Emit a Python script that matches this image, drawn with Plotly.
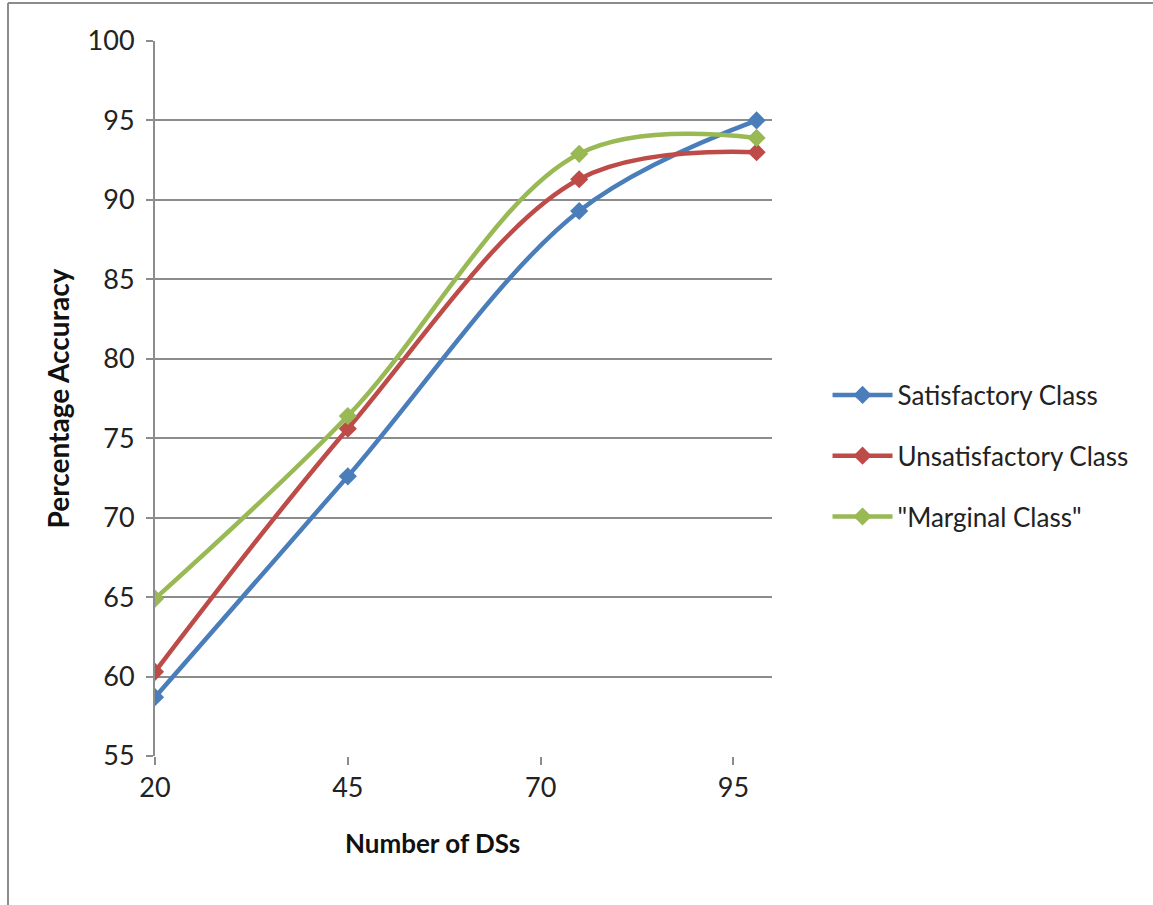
import plotly.graph_objects as go

num_ds = [20, 45, 75, 98]
satisfactory = [58.7, 72.6, 89.3, 95.0]
unsatisfactory = [60.3, 75.6, 91.3, 93.0]
marginal = [64.9, 76.4, 92.9, 93.9]
series_names = ["Satisfactory Class", "Unsatisfactory Class", "\"Marginal Class\""]
colors = ["#4A7EBB", "#BE4B48", "#98B954"]
x_ticks = [20, 45, 70, 95]
y_ticks = [55, 60, 65, 70, 75, 80, 85, 90, 95, 100]

FONT = "Lato, 'Open Sans', sans-serif"

fig = go.Figure()
for i, (name, vals, col) in enumerate(zip(series_names, [satisfactory, unsatisfactory, marginal], colors)):
    fig.add_trace(go.Scatter(
        x=num_ds, y=vals, name=name, mode="lines+markers", legendgroup=f"g{i}",
        line=dict(color=col, width=4.5, shape="spline", smoothing=1.0),
        marker=dict(symbol="diamond", size=14, color=col),
    ))

fig.update_layout(
    width=1153, height=905,
    margin=dict(l=155, r=381, t=41, b=149),
    paper_bgcolor="white", plot_bgcolor="white",
    font=dict(family=FONT, color="#222222"),
    showlegend=True,
    legend=dict(x=1.09, y=(756 - 456) / 715, xanchor="left", yanchor="middle",
                font=dict(size=26, family=FONT, color="#222222"),
                itemwidth=60, tracegroupgap=24, bgcolor="rgba(0,0,0,0)"),
    xaxis=dict(range=[20, 100], tickvals=x_ticks, ticktext=[str(v) for v in x_ticks],
               showgrid=False, zeroline=False, showline=False,
               ticks="outside", ticklen=8, tickwidth=2, tickcolor="#8c8c8c",
               tickfont=dict(size=27, family=FONT, color="#222222")),
    yaxis=dict(range=[55, 100], tickvals=y_ticks, ticktext=[str(v) for v in y_ticks],
               showgrid=True, gridcolor="#8c8c8c", gridwidth=2, zeroline=False,
               showline=True, linecolor="#8c8c8c", linewidth=2,
               ticks="outside", ticklen=7, tickwidth=2, tickcolor="#8c8c8c",
               tickfont=dict(size=27, family=FONT, color="#222222"),
               ticklabelstandoff=6,
               title=dict(text="<b>Percentage Accuracy</b>", font=dict(size=28, family=FONT, color="#111111"),
                          standoff=10)),
    annotations=[dict(text="<b>Number of DSs</b>", xref="paper", yref="paper",
                      x=(432 - 155) / 617, y=(756 - 843) / 715, xanchor="center", yanchor="middle",
                      showarrow=False, font=dict(size=26, family=FONT, color="#111111"))],
)

# frame lines around the picture (top and left)
fig.add_shape(type="line", xref="paper", yref="paper", x0=(8 - 155) / 617, x1=(1153 - 155) / 617,
              y0=(756 - 3) / 715, y1=(756 - 3) / 715, line=dict(color="#8c8c8c", width=2))
fig.add_shape(type="line", xref="paper", yref="paper", x0=(8 - 155) / 617, x1=(8 - 155) / 617,
              y0=(756 - 3) / 715, y1=(756 - 905) / 715, line=dict(color="#8c8c8c", width=2))

fig.write_html("out.html")
